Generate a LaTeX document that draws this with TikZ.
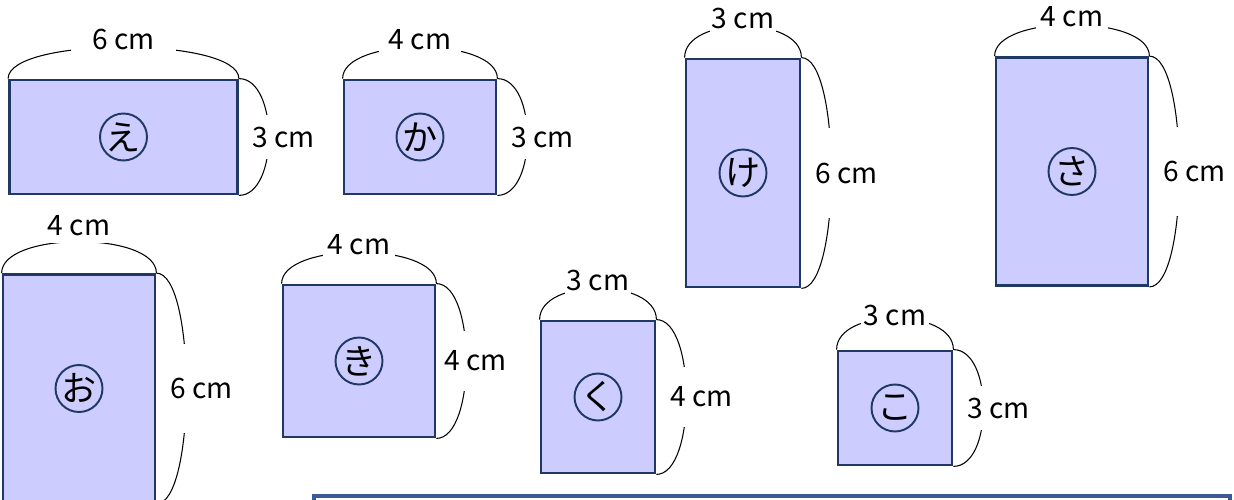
\documentclass[tikz,border=0pt]{standalone}
\usepackage{fontspec}
\setmainfont{Noto Sans CJK JP}
\definecolor{figfill}{HTML}{CCCCFF}
\definecolor{figline}{HTML}{203864}
\definecolor{boxline}{HTML}{3D5A98}

\begin{document}
\begin{tikzpicture}[x=0.02cm, y=0.02cm]
    \tikzset{fig/.style 2 args={
        draw=figline, fill=figfill, line width=1.6pt, inner sep=0pt,
        minimum width=#1*0.76cm, minimum height=#2*0.76cm
      },
      kanacirc/.style={circle, draw=figline, line width=1.1pt, inner sep=0pt,
        minimum size=0.94cm, font=\fontsize{20}{22}\selectfont},
      brace/.style={black, line width=0.6pt},
      toplabel/.style={fill=white, inner xsep=1pt, inner ysep=4pt, minimum width=#1,
        yshift=0.15cm, font=\fontsize{16}{18}\selectfont},
      sidelabel/.style={fill=white, inner xsep=1pt, inner ysep=0pt, minimum height=#1*0.3cm,
        xshift=0.3cm, font=\fontsize{16}{18}\selectfont}
    }

    \useasboundingbox (0,0) rectangle (1234,-500);

    % upper row
    \node[fig={6}{3}] (e) at (123.5,-137) {};
    \node[fig={4}{3}] (ka) at (420,-137) {};
    \node[fig={3}{6}] (ke) at (743,-173) {};
    \node[fig={4}{6}] (sa) at (1072,-171.5) {};

    % lower row
    \node[fig={4}{6}] (o) at (79,-388.5) {};
    \node[fig={4}{4}] (ki) at (359,-361) {};
    \node[fig={3}{4}] (ku) at (598,-397) {};
    \node[fig={3}{3}] (ko) at (895,-408) {};

    \node[kanacirc] (e-k) at (e) {え};
    \node[kanacirc] (ka-k) at (ka) {か};
    \node[kanacirc] (ke-k) at (ke) {け};
    \node[kanacirc] (sa-k) at (sa) {さ};
    \node[kanacirc] (o-k) at (o) {お};
    \node[kanacirc] (ki-k) at (ki) {き};
    \node[kanacirc] (ku-k) at (ku) {く};
    \node[kanacirc] (ko-k) at (ko) {こ};

    \draw[brace] (e.north west) .. controls +(0,42) and +(0,42) .. node[midway,toplabel=2.1cm] (e-w) {6 cm} (e.north east);
    \draw[brace] (e.north east) .. controls +(40,0) and +(40,0) .. node[midway,sidelabel=3] (e-h) {3 cm} (e.south east);

    \draw[brace] (ka.north west) .. controls +(0,42) and +(0,42) .. node[midway,toplabel=1.65cm] (ka-w) {4 cm} (ka.north east);
    \draw[brace] (ka.north east) .. controls +(40,0) and +(40,0) .. node[midway,sidelabel=3] (ka-h) {3 cm} (ka.south east);

    \draw[brace] (ke.north west) .. controls +(0,42) and +(0,42) .. node[midway,toplabel=0.9cm] (ke-w) {3 cm} (ke.north east);
    \draw[brace] (ke.north east) .. controls +(40,0) and +(40,0) .. node[midway,sidelabel=6] (ke-h) {6 cm} (ke.south east);

    \draw[brace] (sa.north west) .. controls +(0,42) and +(0,42) .. node[midway,toplabel=1.45cm] (sa-w) {4 cm} (sa.north east);
    \draw[brace] (sa.north east) .. controls +(40,0) and +(40,0) .. node[midway,sidelabel=6] (sa-h) {6 cm} (sa.south east);

    \draw[brace] (o.north west) .. controls +(0,42) and +(0,42) .. node[midway,toplabel=1.35cm,yshift=0.16cm] (o-w) {4 cm} (o.north east);
    \draw[brace] (o.north east) .. controls +(40,0) and +(40,0) .. node[midway,sidelabel=6] (o-h) {6 cm} (o.south east);

    \draw[brace] (ki.north west) .. controls +(0,42) and +(0,42) .. node[midway,toplabel=1.45cm] (ki-w) {4 cm} (ki.north east);
    \draw[brace] (ki.north east) .. controls +(40,0) and +(40,0) .. node[midway,sidelabel=4,xshift=-0.12cm] (ki-h) {4 cm} (ki.south east);

    \draw[brace] (ku.north west) .. controls +(0,42) and +(0,42) .. node[midway,toplabel=1.3cm] (ku-w) {3 cm} (ku.north east);
    \draw[brace] (ku.north east) .. controls +(40,0) and +(40,0) .. node[midway,sidelabel=4] (ku-h) {4 cm} (ku.south east);

    \draw[brace] (ko.north west) .. controls +(0,42) and +(0,42) .. node[midway,toplabel=1.35cm,yshift=-0.1cm] (ko-w) {3 cm} (ko.north east);
    \draw[brace] (ko.north east) .. controls +(40,0) and +(40,0) .. node[midway,sidelabel=3] (ko-h) {3 cm} (ko.south east);

    % text box at the bottom, cut off by the page
    \node[draw=boxline, line width=2.2pt, fill=white, anchor=north west,
      minimum width=18.32cm, minimum height=1.2cm] (note) at (312,-494) {};
  \end{tikzpicture}
\end{document}
